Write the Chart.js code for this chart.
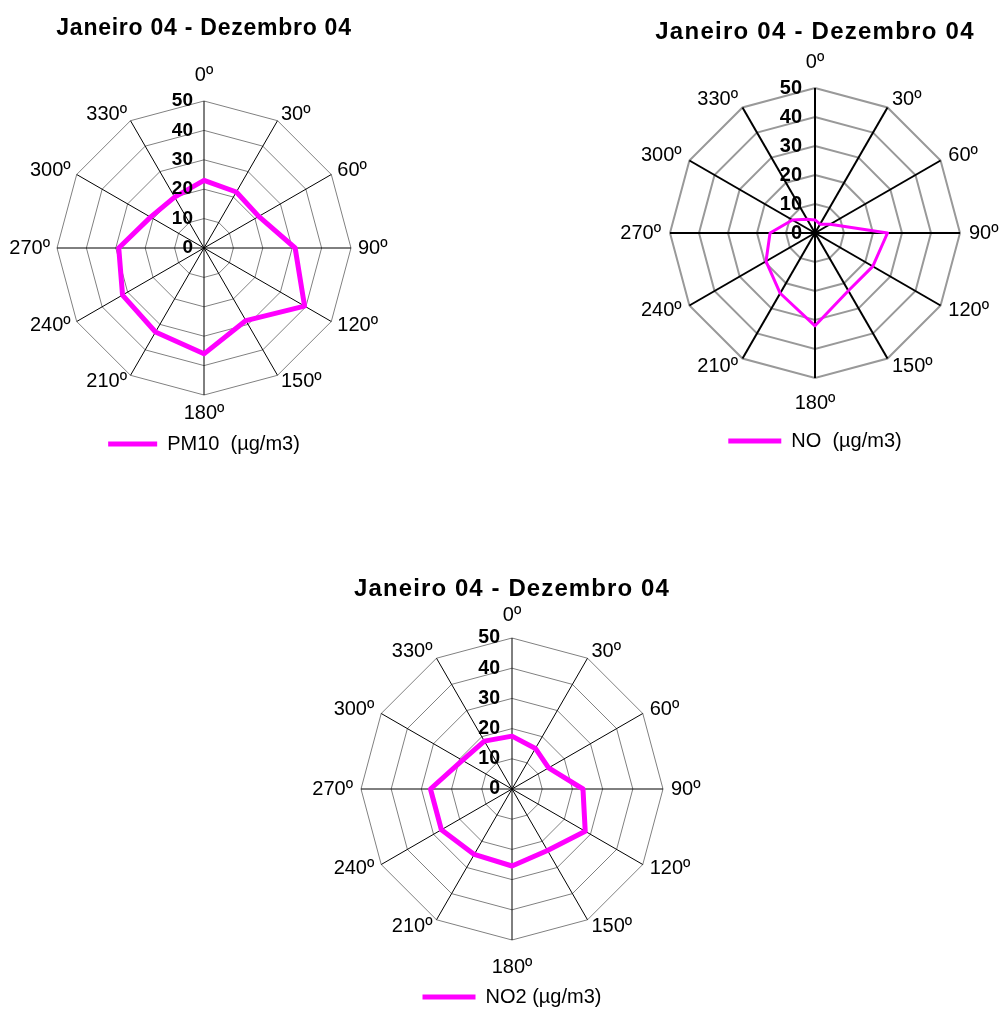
<!DOCTYPE html>
<html>
<head>
<meta charset="utf-8">
<script src="https://cdn.jsdelivr.net/npm/chart.js@4.4.1/dist/chart.umd.min.js"></script>
<style>
  html, body { margin: 0; padding: 0; background: #fff; overflow: hidden; width: 999px; height: 1012px; position: relative; }
  canvas { position: absolute; }
</style>
</head>
<body>
<canvas id="c1" width="470" height="464" style="left:-31px;top:0px"></canvas>
<canvas id="c2" width="470" height="461" style="left:580px;top:0px"></canvas>
<canvas id="c3" width="480" height="457" style="left:272px;top:560px"></canvas>
<script>
// ---- data ----
const directions = ['0º','30º','60º','90º','120º','150º','180º','210º','240º','270º','300º','330º'];
const titleText = 'Janeiro 04 - Dezembro 04';
const pm10 = [23, 22, 21.5, 31, 39.5, 28.5, 36, 33, 32, 29, 21, 20];
const no   = [4.5, 3.5, 6, 25, 23, 23, 32, 24, 19.5, 15.5, 9, 5.5];
const no2  = [17.5, 15.5, 14, 23.5, 28, 23.5, 25.5, 25, 27, 27, 19, 18.3];
const seriesNames = ['PM10  (µg/m3)', 'NO  (µg/m3)', 'NO2 (µg/m3)'];
const axisMin = 0, axisMax = 50, axisStep = 10;

const FONT = '"Liberation Sans", Arial, Helvetica, sans-serif';
Chart.defaults.font.family = FONT;
Chart.defaults.color = '#000';

// value-axis labels, placed through the radial scale
const tickLabelPlugin = {
  id: 'tickLabels',
  afterDatasetsDraw(chart, args, opts) {
    const s = chart.scales.r;
    const ctx = chart.ctx;
    ctx.save();
    ctx.font = 'bold ' + opts.size + 'px ' + FONT;
    ctx.fillStyle = '#000';
    ctx.textAlign = 'right';
    ctx.textBaseline = 'middle';
    s.ticks.forEach(t => {
      const y = s.yCenter - s.getDistanceFromCenterForValue(t.value);
      ctx.fillText(t.label, s.xCenter - opts.offset, y);
    });
    ctx.restore();
  }
};

// slightly wider title lettering
const titleSpacingPlugin = {
  id: 'titleSpacing',
  beforeDraw(chart, args, opts) {
    const tb = chart.titleBlock;
    if (tb && !tb._spaced) {
      const d = tb.draw;
      tb.draw = function () {
        const c = this.ctx;
        c.save();
        c.letterSpacing = opts.spacing + 'px';
        d.apply(this, arguments);
        c.restore();
      };
      tb._spaced = true;
    }
  }
};

function makeRadar(id, cfg) {
  return new Chart(document.getElementById(id), {
    type: 'radar',
    data: {
      labels: directions,
      datasets: [{
        label: cfg.name,
        data: cfg.data,
        borderColor: '#FF00FF',
        backgroundColor: '#FF00FF',
        borderWidth: cfg.lineW,
        borderJoinStyle: 'round',
        fill: false,
        pointRadius: 0,
        pointHoverRadius: 0,
        tension: 0
      }]
    },
    options: {
      responsive: false,
      animation: false,
      devicePixelRatio: 1,
      events: [],
      layout: { padding: 0 },
      plugins: {
        tooltip: { enabled: false },
        title: {
          display: true,
          text: titleText,
          color: '#000',
          font: { size: cfg.titleSize, weight: 'bold', lineHeight: 1 },
          padding: { top: cfg.titlePt, bottom: cfg.titlePb }
        },
        legend: {
          position: 'bottom',
          labels: {
            color: '#000',
            font: { size: 20 },
            boxWidth: cfg.boxW,
            boxHeight: 5,
            padding: cfg.legPad,
            generateLabels: chart => Chart.defaults.plugins.legend.labels.generateLabels(chart).map(l => Object.assign(l, { lineWidth: 0, fillStyle: '#FF00FF' }))
          }
        },
        tickLabels: { size: cfg.tickSize, offset: cfg.tickOff },
        titleSpacing: { spacing: cfg.titleLs }
      },
      scales: {
        r: {
          min: axisMin,
          max: axisMax,
          ticks: { stepSize: axisStep, display: false },
          grid: { color: cfg.gridColor, lineWidth: cfg.gridW },
          angleLines: { color: cfg.angleColor, lineWidth: cfg.angleW },
          pointLabels: {
            color: '#000',
            font: c => ({ size: 20, lineHeight: (c.index % 6 === 0) ? 1.2 : 0.01 }),
            padding: c => c.index === 0 ? cfg.padTop : (c.index === 6 ? cfg.padBottom : cfg.padSide)
          }
        }
      }
    },
    plugins: [tickLabelPlugin, titleSpacingPlugin]
  });
}

makeRadar('c1', {
  name: seriesNames[0], data: pm10, lineW: 5,
  titleSize: 23, titlePt: 17.5, titlePb: 18.5, titleLs: 0.75,
  boxW: 49, legPad: 5,
  padTop: 14, padBottom: 6, padSide: 7,
  tickSize: 19, tickOff: 11,
  gridColor: '#808080', gridW: 1,
  angleColor: '#000', angleW: 1
});
makeRadar('c2', {
  name: seriesNames[1], data: no, lineW: 3,
  titleSize: 24, titlePt: 20, titlePb: 6, titleLs: 1.25,
  boxW: 53, legPad: 15,
  padTop: 14, padBottom: 13, padSide: 9,
  tickSize: 20, tickOff: 13,
  gridColor: '#999999', gridW: 2,
  angleColor: '#000', angleW: 2
});
makeRadar('c3', {
  name: seriesNames[2], data: no2, lineW: 5,
  titleSize: 24, titlePt: 17, titlePb: 0, titleLs: 1.1,
  boxW: 53, legPad: 6,
  padTop: 11, padBottom: 15, padSide: 8,
  tickSize: 19.5, tickOff: 12,
  gridColor: '#808080', gridW: 1,
  angleColor: '#000', angleW: 1
});
</script>
</body>
</html>
